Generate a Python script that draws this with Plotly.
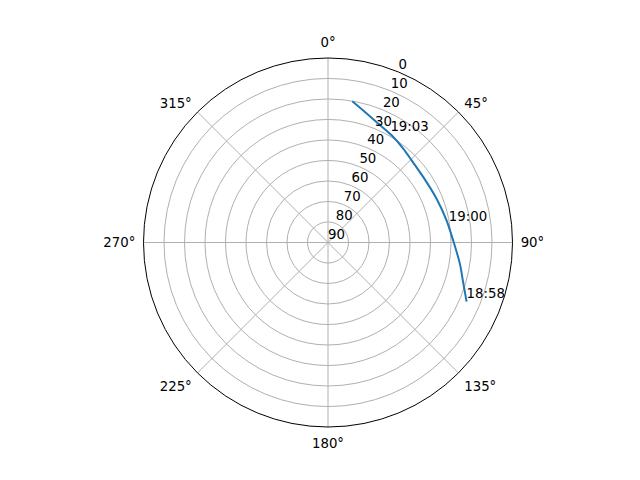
import plotly.graph_objects as go

# satellite pass: azimuth (deg, clockwise from north) and elevation (deg)
azimuth = [113.1, 106.2, 99.0, 88.9, 79.3, 67.9, 55.4, 45.4, 38.7, 30.7, 22.9, 15.8, 9.75]
elevation = [16.5, 21.4, 24.9, 29.0, 31.2, 32.9, 33.6, 32.8, 31.3, 29.2, 27.0, 23.8, 20.1]

label_times = ["18:58", "19:00", "19:03"]
label_azimuth = [113.1, 81.4, 30.0]
label_elevation = [16.5, 30.4, 29.1]

radial_ticks = [0, 10, 20, 30, 40, 50, 60, 70, 80, 90]
radial_label_angle = 22.5
angle_ticks = [0, 45, 90, 135, 180, 225, 270, 315]

FONT = dict(family="DejaVu Sans", size=13.3, color="black")
GRID = "#b0b0b0"

fig = go.Figure()
fig.add_trace(go.Scatterpolar(
    theta=azimuth, r=elevation, mode="lines",
    line=dict(color="#1f77b4", width=2, shape="spline", smoothing=0.8),
    showlegend=False, hoverinfo="skip",
))
fig.add_trace(go.Scatterpolar(
    theta=label_azimuth, r=label_elevation, mode="text",
    text=label_times, textposition="top right",
    textfont=FONT, showlegend=False, hoverinfo="skip",
))
# radial tick labels, matplotlib style: upright, next to the 22.5 deg spoke
fig.add_trace(go.Scatterpolar(
    theta=[radial_label_angle] * len(radial_ticks), r=radial_ticks, mode="text",
    text=[str(t) for t in radial_ticks], textposition="top right",
    textfont=FONT, showlegend=False, hoverinfo="skip", cliponaxis=False,
))

# the page body adds an 8px offset, margins compensate for it
fig.update_layout(
    width=640, height=480,
    margin=dict(l=72, r=72, t=49.6, b=60.8),
    paper_bgcolor="white",
    font=FONT,
    polar=dict(
        bgcolor="white",
        angularaxis=dict(
            rotation=90, direction="clockwise",
            tickvals=angle_ticks, ticktext=[f"{a}°" for a in angle_ticks],
            showline=True, linecolor="black", linewidth=1,
            gridcolor=GRID, gridwidth=1,
            ticks="outside", ticklen=5, tickcolor="rgba(0,0,0,0)",
            tickfont=FONT,
        ),
        radialaxis=dict(
            range=[90, 0], tickvals=radial_ticks, angle=67.5,
            showline=False, ticks="", gridcolor=GRID, gridwidth=1,
            showticklabels=False,
        ),
    ),
)

fig.write_html("out.html")
